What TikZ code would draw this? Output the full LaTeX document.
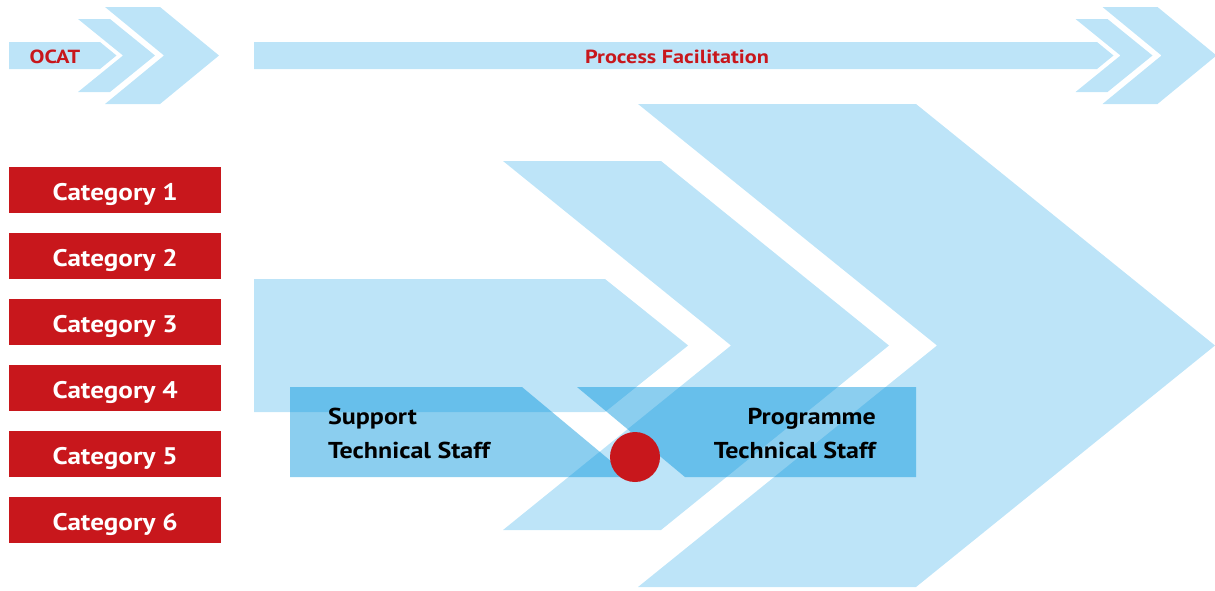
\documentclass[tikz,border=0pt]{standalone}
\usepackage{fontspec}
\setmainfont{PT Sans}
\newfontfamily\widefont[FakeStretch=1.13]{PT Sans}
\newfontfamily\widerfont[FakeStretch=1.17]{PT Sans}
\definecolor{lblue}{RGB}{189,228,248}
\definecolor{mblue}{RGB}{0,147,220}
\definecolor{cred}{RGB}{200,23,28}
\tikzset{
  chev/.style={fill=lblue, draw=none},
  tbox/.style={fill=mblue, fill opacity=0.455, draw=none},
  catbox/.style={fill=cred, draw=none, minimum width=212pt, minimum height=45.5pt, inner sep=0pt,
     text height=20.5pt, text depth=0pt,
     text=white, font=\widefont\fontsize{24}{28}\selectfont\bfseries, anchor=north west},
  toplabel/.style={text=cred, font=\widerfont\fontsize{19}{22}\selectfont\bfseries, inner sep=0pt},
  stafflabel/.style={text=black, font=\widefont\fontsize{23}{34}\selectfont\bfseries, inner sep=0pt}
}
\begin{document}
\begin{tikzpicture}[x=1pt,y=-1pt]
\useasboundingbox (0,0) rectangle (1215,590);
% top-left arrow group
\fill[chev] (9,42) -- (100,42) -- (116.5,55.5) -- (100,69) -- (9,69) -- cycle;
\fill[chev] (78,19) -- (110,19) -- (155,55.5) -- (110,92) -- (78,92) -- (123,55.5) -- cycle;
\fill[chev] (105,7) -- (160,7) -- (219,55.5) -- (160,104) -- (105,104) -- (164,55.5) -- cycle;
% process bar and right group
\fill[chev] (254,42) -- (1097,42) -- (1113.5,55.5) -- (1097,69) -- (254,69) -- cycle;
\begin{scope}[xshift=997.5pt]
\fill[chev] (78,19) -- (110,19) -- (155,55.5) -- (110,92) -- (78,92) -- (123,55.5) -- cycle;
\fill[chev] (105,7) -- (160,7) -- (219,55.5) -- (160,104) -- (105,104) -- (164,55.5) -- cycle;
\end{scope}
\node[toplabel] (ocat) at (55,57) {OCAT};
\node[toplabel] (pf) at (677,57) {Process Facilitation};
% big chevrons
\fill[chev] (638,104) -- (916,104) -- (1215,345.5) -- (916,587) -- (638,587) -- (937,345.5) -- cycle;
\fill[chev] (503,161) -- (661,161) -- (889,345.5) -- (661,530) -- (503,530) -- (731,345.5) -- cycle;
\fill[chev] (254,279) -- (605,279) -- (688,345.5) -- (605,412) -- (254,412) -- cycle;
% category boxes
\foreach \i in {1,...,6}{
  \node[catbox] (cat\i) at (9,{167+66*(\i-1)}) {Category \i};
}
% staff boxes
\fill[tbox] (290,387) -- (522,387) -- (630,477) -- (290,477) -- cycle;
\fill[tbox] (577,387) -- (916,387) -- (916,477) -- (685,477) -- cycle;
\node[fill=cred, circle, minimum size=50pt, inner sep=0pt] (dot) at (635,457) {};
\node[stafflabel, align=left, anchor=north west] (sts) at (328,408) {Support\\Technical Staff};
\node[stafflabel, align=right, anchor=north east] (pts) at (876,408) {Programme\\Technical Staff};
\end{tikzpicture}
\end{document}
